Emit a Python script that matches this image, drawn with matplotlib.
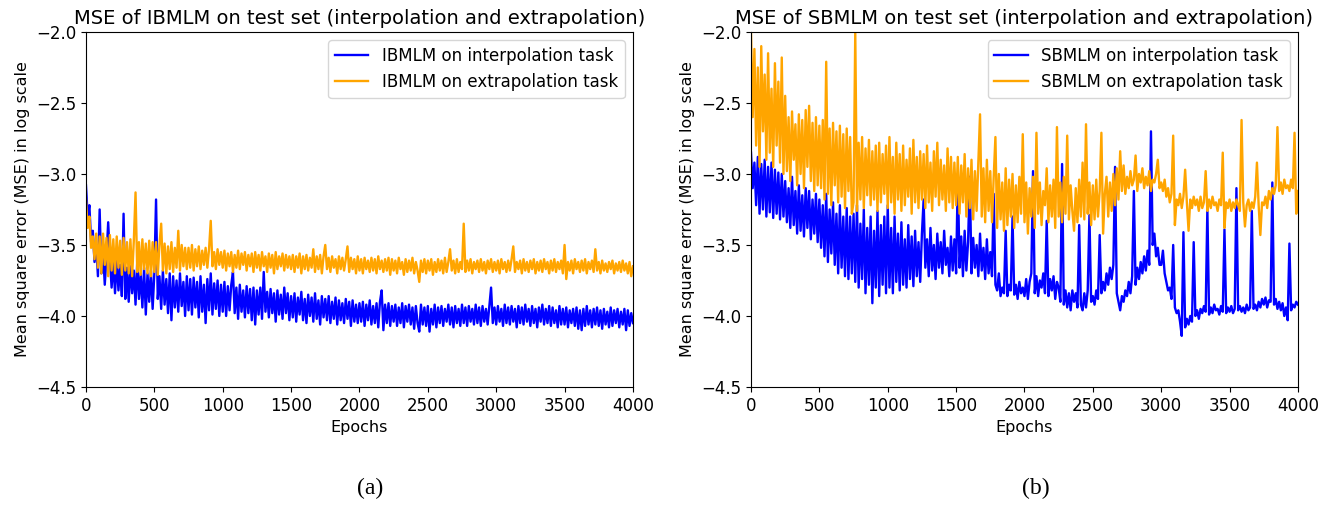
import numpy as np
import matplotlib
matplotlib.use("Agg")
import matplotlib.pyplot as plt

# one sample every 12.5 epochs (log10 of the MSE)
step = 12.5

# (a) IBMLM
ibmlm_interp = [
    -3.08, -3.30, -3.22, -3.48, -3.40, -3.62, -3.50, -3.72, -3.25, -3.70, -3.55, -3.78, -3.58, -3.34, -3.60, -3.80, -3.62, -3.84, -3.60, -3.82,
    -3.64, -3.86, -3.28, -3.88, -3.66, -3.90, -3.65, -3.84, -3.68, -3.92, -3.62, -3.88, -3.70, -3.94, -3.66, -3.99, -3.70, -3.90, -3.68, -3.95,
    -3.70, -3.18, -3.88, -3.72, -3.95, -3.68, -3.92, -3.74, -3.98, -3.70, -4.03, -3.72, -3.94, -3.75, -3.97, -3.70, -3.93, -3.76, -4.00, -3.72,
    -3.96, -3.74, -3.99, -3.73, -3.94, -3.76, -4.01, -3.72, -3.97, -3.78, -4.05, -3.74, -3.96, -3.70, -3.99, -3.77, -3.95, -3.75, -4.00, -3.78,
    -3.97, -3.76, -4.00, -3.79, -3.96, -3.78, -3.69, -3.98, -3.80, -4.02, -3.78, -3.97, -3.82, -4.01, -3.79, -3.98, -3.81, -4.03, -3.80, -4.06,
    -3.82, -3.99, -3.80, -4.02, -3.69, -3.97, -3.83, -4.01, -3.81, -3.98, -3.84, -4.04, -3.82, -3.99, -3.85, -4.02, -3.80, -3.98, -3.84, -4.03,
    -3.86, -4.01, -3.84, -4.04, -3.87, -3.99, -3.83, -4.03, -3.88, -4.05, -3.85, -4.00, -3.87, -4.04, -3.84, -4.02, -3.89, -4.06, -3.86, -4.01,
    -3.88, -4.03, -3.86, -4.05, -3.90, -4.02, -3.87, -4.06, -3.89, -4.03, -3.91, -4.05, -3.88, -4.02, -3.90, -4.07, -3.89, -4.04, -3.92, -4.05,
    -3.91, -4.04, -3.90, -4.07, -3.92, -4.03, -3.89, -4.06, -3.93, -4.05, -3.91, -4.08, -3.90, -3.82, -4.10, -3.92, -4.05, -3.91, -4.07, -3.93,
    -4.04, -3.92, -4.07, -3.94, -4.05, -3.91, -4.08, -3.93, -4.04, -3.92, -4.06, -3.94, -4.09, -3.93, -4.05, -4.11, -3.92, -4.06, -3.94, -4.07,
    -3.93, -4.11, -3.95, -4.06, -3.92, -4.08, -3.94, -4.05, -3.93, -4.07, -3.95, -4.04, -3.92, -4.06, -3.94, -4.08, -3.93, -4.05, -3.95, -4.07,
    -3.92, -4.05, -3.94, -4.07, -3.93, -4.04, -3.95, -4.06, -3.92, -4.05, -3.94, -4.07, -3.93, -4.04, -3.95, -4.06, -3.93, -3.80, -4.05, -3.94,
    -4.06, -3.93, -4.04, -3.95, -4.07, -3.92, -4.05, -3.94, -4.06, -3.93, -4.04, -3.95, -4.08, -3.93, -4.05, -3.94, -4.06, -3.92, -4.04, -3.95,
    -4.07, -3.93, -4.05, -3.95, -4.08, -3.94, -4.04, -3.92, -4.06, -3.95, -4.05, -3.93, -4.07, -3.94, -4.05, -3.96, -4.08, -3.93, -4.06, -3.95,
    -4.06, -3.94, -4.08, -3.96, -4.05, -3.95, -4.07, -3.94, -4.09, -3.96, -4.10, -3.95, -4.07, -3.93, -4.06, -3.96, -4.08, -3.95, -4.06, -3.94,
    -4.07, -3.96, -4.09, -3.95, -4.06, -3.97, -4.08, -3.94, -4.07, -3.96, -4.05, -3.95, -4.08, -3.97, -4.06, -3.95, -4.10, -3.96, -4.07, -3.98,
    -4.05,
]
ibmlm_extrap = [
    -3.18, -3.38, -3.30, -3.52, -3.44, -3.60, -3.42, -3.66, -3.44, -3.70, -3.42, -3.64, -3.45, -3.72, -3.43, -3.68, -3.46, -3.70, -3.44, -3.66,
    -3.47, -3.71, -3.45, -3.68, -3.48, -3.70, -3.46, -3.72, -3.47, -3.13, -3.69, -3.48, -3.71, -3.46, -3.67, -3.49, -3.70, -3.47, -3.72, -3.48,
    -3.69, -3.48, -3.71, -3.50, -3.35, -3.68, -3.49, -3.70, -3.51, -3.67, -3.48, -3.69, -3.52, -3.66, -3.40, -3.68, -3.50, -3.65, -3.52, -3.67,
    -3.52, -3.66, -3.50, -3.68, -3.53, -3.65, -3.51, -3.67, -3.54, -3.64, -3.52, -3.66, -3.53, -3.33, -3.65, -3.55, -3.67, -3.53, -3.64, -3.55,
    -3.66, -3.54, -3.68, -3.56, -3.65, -3.55, -3.69, -3.57, -3.66, -3.54, -3.67, -3.56, -3.64, -3.55, -3.68, -3.57, -3.65, -3.56, -3.69, -3.55,
    -3.66, -3.57, -3.68, -3.55, -3.65, -3.58, -3.69, -3.56, -3.66, -3.57, -3.70, -3.55, -3.67, -3.58, -3.65, -3.56, -3.68, -3.57, -3.66, -3.58,
    -3.67, -3.57, -3.69, -3.58, -3.66, -3.56, -3.70, -3.58, -3.67, -3.57, -3.68, -3.59, -3.66, -3.53, -3.69, -3.58, -3.67, -3.57, -3.70, -3.58,
    -3.50, -3.67, -3.59, -3.69, -3.58, -3.66, -3.60, -3.70, -3.58, -3.67, -3.59, -3.68, -3.60, -3.51, -3.69, -3.59, -3.67, -3.60, -3.70, -3.58,
    -3.68, -3.60, -3.70, -3.59, -3.67, -3.61, -3.69, -3.59, -3.68, -3.60, -3.70, -3.58, -3.67, -3.61, -3.69, -3.60, -3.68, -3.59, -3.71, -3.60,
    -3.68, -3.61, -3.70, -3.59, -3.67, -3.62, -3.71, -3.60, -3.69, -3.61, -3.68, -3.59, -3.70, -3.62, -3.68, -3.76, -3.61, -3.69, -3.60, -3.70,
    -3.61, -3.68, -3.60, -3.71, -3.62, -3.69, -3.60, -3.68, -3.61, -3.70, -3.59, -3.69, -3.62, -3.53, -3.68, -3.61, -3.70, -3.60, -3.69, -3.62,
    -3.67, -3.35, -3.69, -3.61, -3.68, -3.60, -3.70, -3.62, -3.67, -3.61, -3.69, -3.60, -3.68, -3.62, -3.70, -3.61, -3.67, -3.60, -3.69, -3.62,
    -3.68, -3.61, -3.70, -3.60, -3.67, -3.62, -3.69, -3.61, -3.68, -3.60, -3.51, -3.69, -3.62, -3.67, -3.61, -3.70, -3.60, -3.68, -3.62, -3.69,
    -3.61, -3.67, -3.60, -3.70, -3.62, -3.68, -3.61, -3.69, -3.60, -3.67, -3.62, -3.70, -3.61, -3.68, -3.60, -3.69, -3.62, -3.67, -3.61, -3.70,
    -3.50, -3.74, -3.62, -3.68, -3.61, -3.70, -3.60, -3.67, -3.62, -3.69, -3.61, -3.68, -3.60, -3.70, -3.62, -3.67, -3.61, -3.69, -3.53, -3.68,
    -3.62, -3.70, -3.61, -3.68, -3.63, -3.69, -3.62, -3.67, -3.61, -3.70, -3.63, -3.68, -3.62, -3.69, -3.61, -3.68, -3.63, -3.70, -3.62, -3.72,
    -3.65,
]

# (b) SBMLM
sbmlm_interp = [
    -2.85, -3.10, -2.92, -3.22, -2.88, -3.28, -2.93, -3.25, -2.90, -3.30, -2.95, -3.27, -2.92, -3.31, -2.97, -3.28, -2.99, -3.32, -3.00, -3.30,
    -3.05, -3.34, -3.10, -3.38, -3.02, -3.36, -3.12, -3.42, -3.08, -3.40, -3.15, -3.44, -3.10, -3.38, -3.12, -3.46, -3.18, -3.42, -3.14, -3.48,
    -3.18, -3.52, -3.22, -3.58, -3.14, -3.62, -3.25, -3.56, -3.20, -3.64, -3.28, -3.70, -3.22, -3.66, -3.30, -3.72, -3.24, -3.74, -3.30, -3.70,
    -3.28, -3.76, -3.22, -3.80, -3.35, -3.74, -3.25, -3.84, -3.38, -3.78, -3.30, -3.91, -3.40, -3.80, -3.26, -3.86, -3.36, -3.78, -3.30, -3.84,
    -3.22, -3.80, -3.38, -3.84, -3.30, -3.76, -3.42, -3.82, -3.34, -3.78, -3.46, -3.80, -3.36, -3.74, -3.44, -3.79, -3.40, -3.72, -3.48, -3.76,
    -3.42, -3.18, -3.66, -3.46, -3.72, -3.38, -3.68, -3.50, -3.74, -3.42, -3.66, -3.48, -3.70, -3.40, -3.64, -3.52, -3.72, -3.44, -3.68, -3.46,
    -3.70, -3.00, -3.66, -3.44, -3.72, -3.40, -3.68, -3.48, -3.02, -3.70, -3.45, -3.66, -3.50, -3.72, -3.42, -3.68, -3.52, -3.74, -3.46, -3.70,
    -3.55, -3.72, -3.14, -3.78, -3.82, -3.70, -3.86, -3.80, -3.84, -3.40, -3.86, -3.78, -3.82, -3.30, -3.85, -3.78, -3.88, -3.76, -3.84, -3.80,
    -3.86, -3.74, -3.88, -3.76, -3.70, -2.98, -3.84, -3.72, -3.86, -3.75, -3.80, -3.70, -3.84, -3.33, -3.86, -3.74, -3.82, -3.72, -3.88, -3.76,
    -3.80, -3.90, -2.93, -3.92, -3.82, -3.94, -3.84, -3.96, -3.82, -3.90, -3.84, -3.94, -3.36, -3.92, -3.96, -3.84, -3.94, -3.82, -3.29, -3.90,
    -3.86, -3.92, -3.82, -3.88, -3.43, -3.84, -3.76, -3.82, -3.70, -3.78, -3.66, -3.74, -3.64, -2.95, -3.84, -3.90, -3.96, -3.86, -3.90, -3.82,
    -3.86, -3.76, -3.84, -3.72, -3.12, -3.78, -3.66, -3.74, -3.62, -3.70, -3.58, -3.68, -3.54, -3.64, -2.70, -3.50, -3.42, -3.58, -3.52, -3.64,
    -3.64, -3.54, -3.70, -3.76, -3.82, -3.80, -3.88, -3.50, -3.94, -3.98, -3.96, -4.04, -4.14, -3.41, -4.08, -4.02, -4.06, -4.00, -4.04, -3.48,
    -4.00, -3.96, -4.02, -3.95, -3.98, -3.93, -3.97, -3.24, -3.99, -3.94, -3.98, -3.92, -3.96, -3.95, -3.99, -3.93, -3.97, -3.39, -3.98, -3.94,
    -3.97, -3.93, -3.98, -3.95, -3.10, -3.96, -3.93, -3.97, -3.94, -3.98, -3.92, -3.96, -3.94, -3.26, -3.95, -3.92, -3.96, -3.90, -3.94, -3.88,
    -3.92, -3.87, -3.94, -3.89, -3.90, -3.06, -3.92, -3.88, -3.95, -3.90, -3.96, -3.91, -4.00, -3.94, -4.03, -3.49, -3.96, -3.92, -3.94, -3.90,
    -3.92,
]
sbmlm_extrap = [
    -2.00, -2.60, -2.12, -2.80, -2.25, -2.95, -2.10, -2.70, -2.30, -2.90, -2.15, -2.85, -2.40, -2.95, -2.22, -2.80, -2.35, -2.92, -2.18, -3.00,
    -2.45, -2.98, -2.60, -3.05, -2.56, -2.90, -2.65, -3.08, -2.58, -3.00, -2.62, -3.10, -2.55, -2.95, -2.52, -3.05, -2.64, -3.12, -2.60, -3.08,
    -2.66, -3.10, -2.62, -3.18, -2.21, -3.14, -2.68, -3.22, -2.64, -3.08, -2.70, -3.20, -2.66, -3.16, -2.72, -3.24, -2.68, -3.12, -2.74, -3.28,
    -3.20, -2.00, -3.26, -2.78, -3.18, -2.74, -3.24, -2.82, -3.15, -2.76, -3.22, -2.84, -3.18, -2.80, -3.26, -2.78, -3.20, -2.86, -3.14, -2.80,
    -3.24, -2.74, -3.20, -2.88, -3.28, -2.78, -3.18, -2.86, -3.26, -2.80, -3.22, -2.90, -3.16, -2.82, -3.28, -2.76, -3.20, -2.88, -3.24, -2.84,
    -3.18, -2.86, -3.24, -2.80, -3.20, -2.92, -3.26, -2.84, -3.16, -2.78, -3.22, -2.90, -3.18, -2.94, -3.26, -2.82, -3.20, -2.88, -3.24, -2.92,
    -3.22, -2.88, -3.28, -2.94, -3.20, -2.86, -3.30, -2.96, -3.24, -2.90, -3.32, -2.98, -3.26, -2.92, -2.58, -3.30, -2.96, -3.34, -2.90, -3.26,
    -2.98, -3.34, -3.02, -2.74, -3.38, -3.00, -3.32, -3.06, -3.40, -2.96, -3.36, -3.04, -3.30, -3.00, -3.38, -3.08, -3.34, -3.02, -3.28, -2.72,
    -3.34, -3.06, -3.42, -3.10, -3.30, -3.02, -3.38, -2.71, -3.28, -3.06, -3.36, -3.12, -3.22, -2.96, -3.34, -3.08, -3.30, -3.04, -3.38, -2.67,
    -3.30, -3.06, -3.34, -3.02, -3.28, -2.73, -3.32, -3.08, -3.26, -3.40, -3.10, -3.34, -3.04, -3.30, -2.92, -3.32, -2.65, -3.28, -3.06, -3.36,
    -3.08, -3.32, -3.04, -3.30, -3.12, -2.71, -3.42, -3.14, -3.02, -3.30, -3.06, -3.26, -3.00, -3.22, -2.96, -3.18, -2.84, -3.12, -2.94, -3.14,
    -3.02, -3.10, -2.98, -3.08, -3.04, -2.87, -3.12, -3.00, -3.06, -2.96, -3.10, -3.02, -3.08, -2.98, -3.12, -3.04, -3.06, -3.00, -2.90, -3.10,
    -3.06, -3.12, -3.04, -3.16, -3.10, -3.20, -3.14, -2.73, -3.36, -3.18, -3.22, -3.14, -3.24, -3.16, -2.97, -3.20, -3.40, -3.18, -3.24, -3.16,
    -3.22, -3.18, -3.26, -3.16, -3.24, -3.20, -2.98, -3.26, -3.18, -3.24, -3.16, -3.22, -3.20, -3.26, -3.18, -3.22, -2.85, -3.38, -3.20, -3.24,
    -3.18, -3.26, -3.20, -3.24, -3.18, -3.22, -3.26, -2.62, -3.20, -3.37, -3.22, -3.18, -3.26, -3.20, -3.24, -3.16, -2.92, -3.22, -3.43, -3.20,
    -3.22, -3.16, -3.24, -3.12, -3.18, -3.10, -3.14, -3.08, -2.67, -3.12, -3.06, -3.14, -3.04, -3.10, -3.08, -3.12, -3.04, -3.10, -2.71, -3.28,
    -3.12,
]

titles = ["MSE of IBMLM on test set (interpolation and extrapolation)",
          "MSE of SBMLM on test set (interpolation and extrapolation)"]
models = ["IBMLM", "SBMLM"]
captions = ["(a)", "(b)"]

fig = plt.figure(figsize=(13.37, 5.07), dpi=100)
ax1 = fig.add_axes([0.0643, 0.2367, 0.4091, 0.7003])
ax2 = fig.add_axes([0.5617, 0.2367, 0.4091, 0.7003])

panels = [(ax1, ibmlm_interp, ibmlm_extrap), (ax2, sbmlm_interp, sbmlm_extrap)]
for i, (ax, interp, extrap) in enumerate(panels):
    ax.plot(np.arange(len(interp)) * step, interp, color="blue", lw=1.7,
            label=models[i] + " on interpolation task")
    ax.plot(np.arange(len(extrap)) * step, extrap, color="orange", lw=1.7,
            label=models[i] + " on extrapolation task")
    ax.set_xlim(0, 4000)
    ax.set_ylim(-4.5, -2.0)
    ax.set_xticks(np.arange(0, 4001, 500))
    ax.set_yticks(np.arange(-4.5, -1.99, 0.5))
    ax.tick_params(labelsize=12)
    ax.set_title(titles[i], fontsize=14, pad=6)
    ax.set_xlabel("Epochs", fontsize=11.5)
    ax.set_ylabel("Mean square error (MSE) in log scale", fontsize=11.5)
    ax.legend(loc="upper right", fontsize=12)
    # caption under each panel
    pos = ax.get_position()
    fig.text(pos.x0 + pos.width * 0.52, 0.025, captions[i],
             family="Liberation Serif", fontsize=17, ha="center")

fig.savefig("out.png", dpi=100)
